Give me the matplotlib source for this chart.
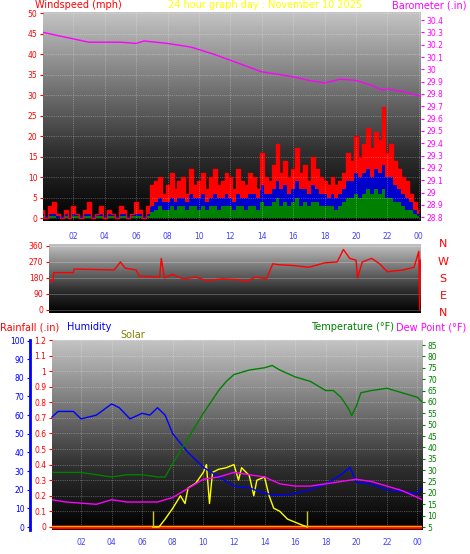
import matplotlib
matplotlib.use("Agg")
import matplotlib.pyplot as plt
import numpy as np

W, H = 470, 554

# ---- data (hours since midnight) ----
gust_hours = [i * 0.25 for i in range(97)]
gust_mph = [2, 0, 3, 4, 1, 0, 2, 0, 3, 1, 0, 2, 4, 0, 1, 3,
            0, 2, 1, 0, 3, 2, 0, 1, 4, 2, 0, 3, 8, 9, 10, 6,
            8, 11, 7, 9, 10, 6, 12, 8, 9, 11, 7, 10, 12, 8, 9, 11,
            10, 7, 12, 9, 8, 11, 10, 7, 16, 10, 9, 13, 18, 11, 14, 10,
            12, 17, 11, 13, 9, 15, 12, 10, 9, 8, 10, 8, 9, 11, 16, 14,
            20, 15, 18, 22, 17, 21, 19, 27, 16, 18, 14, 12, 10, 9, 6, 4, 2]
avg_mph = [1, 0.5, 1, 1, 0.5, 0.5, 1, 0.5, 1, 1, 0.5, 1, 1, 0.5, 1, 1,
           0.5, 1, 1, 0.5, 1, 1, 0.5, 1, 1, 1, 0.5, 1, 3, 4, 5, 4,
           4, 5, 4, 5, 5, 4, 6, 5, 5, 6, 4, 5, 6, 5, 5, 6,
           5, 4, 6, 5, 5, 6, 6, 5, 8, 6, 6, 7, 9, 7, 8, 6,
           7, 9, 7, 7, 6, 8, 7, 6, 6, 5, 6, 5, 6, 7, 9, 9,
           11, 10, 11, 12, 10, 12, 11, 13, 10, 10, 8, 7, 6, 5, 4, 2, 1]
low_mph = [0.5, 0, 0.5, 0.5, 0, 0, 0.5, 0, 0.5, 0.5, 0, 0.5, 0.5, 0, 0.5, 0.5,
           0, 0.5, 0.5, 0, 0.5, 0.5, 0, 0.5, 0.5, 0.5, 0, 0.5, 1.5, 2, 3, 2,
           2, 3, 2, 3, 3, 2, 3, 3, 2, 3, 2, 3, 3, 2, 3, 3,
           3, 2, 3, 3, 2, 3, 3, 2, 4, 3, 3, 4, 5, 3, 4, 3,
           4, 5, 3, 4, 3, 4, 4, 3, 3, 3, 3, 2, 3, 4, 5, 5,
           6, 5, 6, 7, 6, 7, 6, 7, 5, 5, 4, 4, 3, 2, 2, 1, 0.5]

baro_hours = [0.06, 1.5, 3, 5, 6, 6.5, 8, 9.5, 11, 12.5, 14, 15, 16, 17, 18, 19, 20, 21, 21.7, 22, 23, 24.14]
baro_in = [30.30, 30.26, 30.22, 30.22, 30.21, 30.23, 30.21, 30.18, 30.12, 30.05, 29.98, 29.96,
           29.94, 29.91, 29.89, 29.92, 29.91, 29.87, 29.83, 29.84, 29.82, 29.78]

dir_hours = [0.45, 0.7, 0.75, 2.0, 2.05, 4.6, 5.0, 5.3, 6.0, 6.2, 7.5, 7.6, 7.8, 8.3, 9.0, 9.8,
             10.5, 11.5, 12.5, 13.0, 13.6, 14.3, 14.7, 15.0, 16.0, 17.0, 18.0, 18.8, 19.2, 19.6,
             20.0, 20.1, 20.4, 21.0, 21.5, 22.0, 23.0, 23.7, 24.0, 24.05, 24.1, 24.14]
dir_deg = [160, 160, 210, 210, 230, 225, 270, 235, 225, 190, 185, 290, 180, 200, 175, 185,
           165, 175, 170, 160, 185, 175, 260, 255, 250, 240, 265, 270, 340, 290,
           280, 180, 270, 290, 260, 215, 225, 240, 330, 0, 280, 250]

temp_hours = [0.1, 2, 3, 4, 5, 6, 7, 7.5, 8, 9, 10, 10.5, 11, 11.5, 12, 13, 14, 14.5, 15, 16,
              17, 18, 18.5, 19, 19.5, 19.7, 20, 20.3, 21, 22, 23, 24, 24.3]
temp_f = [29, 29, 28, 27, 28, 28, 27, 27, 33, 44, 55, 60, 65, 69, 72, 74, 75, 76, 74, 71,
          69, 65, 65, 62, 57, 54, 58, 64, 65, 66, 64, 62, 60]
humid_hours = [0.1, 0.5, 1.5, 2, 3, 4, 4.5, 5.2, 6, 6.5, 7, 7.5, 8, 9, 10, 11, 12, 13, 14, 15,
               16, 17, 18, 19, 19.6, 20, 21, 22, 23, 24, 24.3]
humid_pct = [59, 62, 62, 58, 60, 66, 64, 58, 61, 60, 64, 60, 50, 40, 32, 27, 22, 21, 18, 17,
             18, 20, 23, 28, 32, 24, 23, 20, 19, 18, 21]
dew_hours = [0.1, 1, 3, 4, 5, 7, 8, 9, 10, 11, 12, 13, 14, 15, 16, 17, 18, 19, 20, 21, 22, 23, 24, 24.3]
dew_f = [17, 16, 15, 17, 16, 16, 18, 22, 26, 27, 29, 28, 27, 24, 23, 23, 24, 25, 26, 25, 23, 21, 18, 17]
solar_hours = [6.7, 7.1, 7.5, 8.0, 8.5, 8.8, 9.0, 9.5, 10.0, 10.2, 10.4, 10.6, 11.0, 11.5, 12.0,
               12.3, 12.5, 13.0, 13.3, 13.5, 14.0, 14.3, 14.6, 15.0, 15.5, 16.0, 16.5, 16.8]
solar_val = [0, 0, 0.05, 0.12, 0.2, 0.15, 0.25, 0.28, 0.35, 0.4, 0.15, 0.35, 0.37, 0.38, 0.4,
             0.3, 0.38, 0.33, 0.2, 0.3, 0.32, 0.2, 0.12, 0.1, 0.05, 0.03, 0.01, 0]
sun_marks = [6.7, 16.8]
rain_hours = [0.1, 24.3]
rain_in = [0, 0]

hour_ticks = list(range(2, 25, 2))
hour_labels = ["%02d" % (h % 24) for h in hour_ticks]


def px_axes(fig, x0, y0, x1, y1):
    return fig.add_axes([x0 / W, 1 - y1 / H, (x1 - x0) / W, (y1 - y0) / H])


def backdrop(ax, top="#c4c4c4"):
    grad = np.linspace(1, 0, 256).reshape(-1, 1)
    cmap = matplotlib.colors.LinearSegmentedColormap.from_list("g", ["#000000", "#303030", "#7a7a7a", top])
    ax.imshow(grad, cmap=cmap, aspect="auto", extent=(0, 1, 0, 1),
              transform=ax.transAxes, zorder=0)


def style(ax, color):
    ax.tick_params(axis="y", colors=color, labelsize=5.5, length=2, pad=2)
    ax.tick_params(axis="x", length=0)
    for s in ax.spines.values():
        s.set_visible(False)


fig = plt.figure(figsize=(W / 100, H / 100), dpi=100)
fig.patch.set_facecolor("white")

# ---- panel 1: wind speed + barometer ----
ax1 = px_axes(fig, 43, 12, 421, 221)
backdrop(ax1)
ax1.set_xlim(0.06, 24.14)
ax1.set_ylim(-0.7, 50.3)
ax1.set_yticks(range(0, 51, 5))
ax1.set_xticks(hour_ticks)
ax1.set_xticklabels(hour_labels)
ax1.tick_params(axis="x", colors="#4040ff", labelsize=5.5, pad=8)
style(ax1, "red")
ax1.grid(True, color="white", ls=":", lw=0.5, alpha=0.5)
ax1.fill_between(gust_hours, gust_mph, color="red", step="mid", lw=0)
ax1.step(gust_hours, gust_mph, color="red", where="mid", lw=1)
ax1.fill_between(gust_hours, avg_mph, color="#0000cc", step="mid", lw=0)
ax1.fill_between(gust_hours, low_mph, color="green", step="mid", lw=0)
ax1b = ax1.twinx()
ax1b.set_ylim(28.77, 30.465)
baro_ticks = np.round(np.arange(28.8, 30.41, 0.1), 1)
ax1b.set_yticks(baro_ticks)
ax1b.set_yticklabels(["%g" % v for v in baro_ticks])
style(ax1b, "magenta")
ax1b.plot(baro_hours, baro_in, color="magenta", lw=1)

fig.text(35 / W, 1 - 5 / H, "Windspeed (mph)", color="red", fontsize=7, va="center")
fig.text(265 / W, 1 - 5 / H, "24 hour graph day : November 10 2025", color="yellow",
         fontsize=7, va="center", ha="center")
fig.text(466 / W, 1 - 5 / H, "Barometer (.in)", color="magenta", fontsize=7, va="center", ha="right")

# ---- panel 2: wind direction ----
ax2 = px_axes(fig, 49, 244, 421, 313)
backdrop(ax2)
ax2.set_xlim(0.45, 24.14)
ax2.set_ylim(-17, 371)
ax2.set_yticks([0, 90, 180, 270, 360])
ax2.set_xticks([])
style(ax2, "red")
ax2.grid(True, axis="y", color="white", ls="-", lw=0.4, alpha=0.4)
ax2.plot(dir_hours, dir_deg, color="red", lw=1)
for lab, yy in zip("NWSEN", [244, 262, 279, 296, 313]):
    fig.text(443 / W, 1 - yy / H, lab, color="red", fontsize=8, ha="center", va="center")

# ---- panel 3: rain, humidity, solar, temperature, dew point ----
ax3 = px_axes(fig, 52, 340, 422, 530)
backdrop(ax3)
ax3.set_xlim(0.1, 24.3)
ax3.set_ylim(-0.02, 1.2)
rain_ticks = np.round(np.arange(0, 1.21, 0.1), 1)
ax3.set_yticks(rain_ticks)
ax3.set_yticklabels(["%g" % v for v in rain_ticks])
ax3.set_xticks(hour_ticks)
ax3.set_xticklabels(hour_labels)
ax3.tick_params(axis="x", colors="#4040ff", labelsize=5.5, pad=6)
style(ax3, "red")
ax3.grid(True, color="white", ls=":", lw=0.5, alpha=0.5)
ax3.plot(rain_hours, rain_in, color="red", lw=2.5, zorder=3)
ax3.plot(rain_hours, [v + 0.005 for v in rain_in], color="orange", lw=1, zorder=3)
ax3.plot(solar_hours, solar_val, color="yellow", lw=1, zorder=4)
ax3.vlines(sun_marks, 0, 0.1, color="#d0d000", lw=1, zorder=4)

axh = px_axes(fig, 30, 340, 422, 530)
axh.patch.set_visible(False)
axh.set_ylim(-1.6, 100.3)
axh.set_yticks(range(0, 101, 10))
axh.set_xlim(0.1 - 22 / 15.3, 24.3)
axh.set_xticks([])
style(axh, "blue")
axh.spines["left"].set_visible(True)
axh.spines["left"].set_color("blue")
axh.spines["left"].set_linewidth(2)
axh.plot(humid_hours, humid_pct, color="blue", lw=1)

axt = ax3.twinx()
axt.set_ylim(3.7, 87.2)
axt.set_yticks(range(5, 86, 5))
style(axt, "green")
axt.plot(temp_hours, temp_f, color="green", lw=1)
axt.plot(dew_hours, dew_f, color="magenta", lw=1)

fig.text(0, 1 - 327 / H, "Rainfall (.in)", color="red", fontsize=7, va="center")
fig.text(67 / W, 1 - 327 / H, "Humidity", color="blue", fontsize=7, va="center")
fig.text(120 / W, 1 - 335 / H, "Solar", color="#808000", fontsize=7, va="center")
fig.text(394 / W, 1 - 327 / H, "Temperature (°F)", color="green", fontsize=7, va="center", ha="right")
fig.text(466 / W, 1 - 327 / H, "Dew Point (°F)", color="magenta", fontsize=7, va="center", ha="right")

fig.savefig("out.png", dpi=100)
